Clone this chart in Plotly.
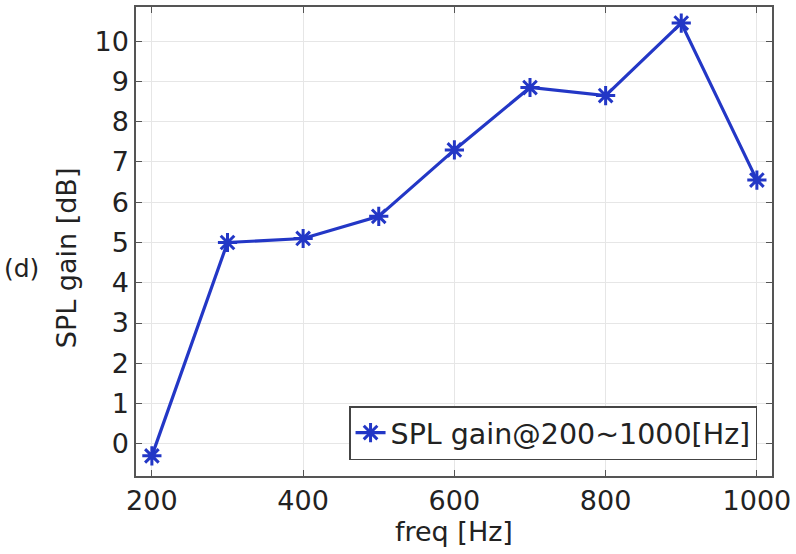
import plotly.graph_objects as go

freq = [200, 300, 400, 500, 600, 700, 800, 900, 1000]
gain = [-0.3, 5.0, 5.1, 5.65, 7.3, 8.85, 8.65, 10.45, 6.55]
x_ticks = [200, 400, 600, 800, 1000]
y_ticks = list(range(0, 11))

FONT = "DejaVu Sans"
BLUE = "#2337c6"
TXT = "#222222"

fig = go.Figure()
fig.add_trace(go.Scatter(
    x=freq, y=gain, mode="lines+markers",
    name="SPL gain@200~1000[Hz]",
    line=dict(color=BLUE, width=3.2),
    marker=dict(symbol="asterisk", size=16, color=BLUE,
                line=dict(color=BLUE, width=3)),
))

axis_common = dict(
    showline=True, linecolor="#555555", linewidth=1.5, mirror="ticks",
    ticks="inside", ticklen=6, tickcolor="#555555",
    showgrid=True, gridcolor="#e6e6e6", gridwidth=1,
    zeroline=False, tickfont=dict(family=FONT, size=27, color=TXT),
)

fig.update_xaxes(range=[179, 1020], tickvals=x_ticks, **axis_common)
fig.update_yaxes(range=[-0.8, 10.85], tickvals=y_ticks, **axis_common)

fig.update_layout(
    width=796, height=554,
    margin=dict(l=136, r=21, t=5, b=78),
    paper_bgcolor="white", plot_bgcolor="white",
    showlegend=True,
    legend=dict(x=0.9765, y=0.034, xanchor="right", yanchor="bottom",
                bordercolor="#444444", borderwidth=1.5, bgcolor="white",
                font=dict(family=FONT, size=28.5, color=TXT)),
    annotations=[
        dict(text="freq [Hz]", xref="paper", yref="paper", x=0.5, y=-0.118,
             xanchor="center", yanchor="middle", showarrow=False,
             font=dict(family=FONT, size=27, color=TXT)),
        dict(text="SPL gain [dB]", xref="paper", yref="paper", x=-0.108, y=0.465,
             xanchor="center", yanchor="middle", showarrow=False, textangle=-90,
             font=dict(family=FONT, size=27, color=TXT)),
        dict(text="(d)", xref="paper", yref="paper", x=-0.21, y=0.442,
             xanchor="left", yanchor="middle", showarrow=False,
             font=dict(family=FONT, size=25, color=TXT)),
    ],
)

fig.write_html("out.html", config={"displayModeBar": False},
               post_script="document.body.style.margin='0';document.body.style.overflow='hidden';")
